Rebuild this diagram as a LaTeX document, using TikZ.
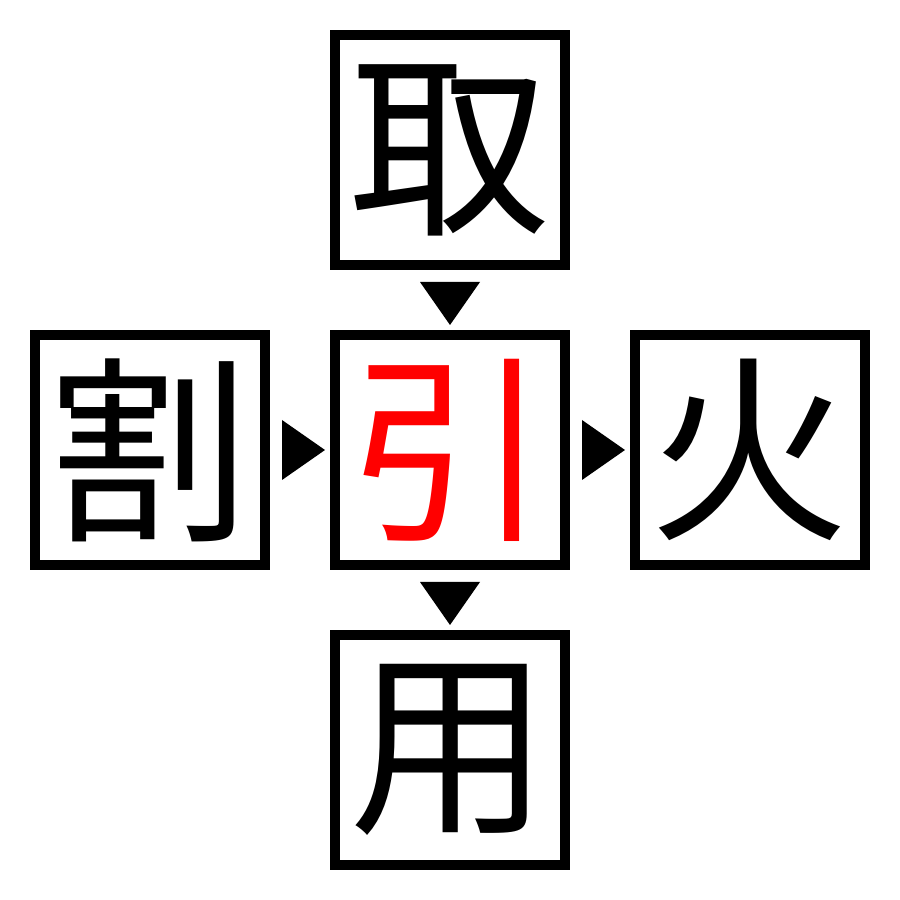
\documentclass[tikz,border=0pt]{standalone}
\usepackage{fontspec}
\newfontfamily\kanji{Noto Sans CJK JP}
\usetikzlibrary{calc}
\tikzset{kbox/.style={draw, line width=1mm, minimum size=2.3cm, inner sep=0pt, font=\kanji\fontsize{57}{57}\selectfont}}

\begin{document}
\begin{tikzpicture}
			%%%%% START %%%%%
			\useasboundingbox (0, 0) rectangle (9, 9);
			
			\node[kbox] (tori) at (4.5, 7.5) {取};
			\node[kbox] (wari) at (1.5, 4.5) {割};
			\node[kbox, text=red] (hiki) at (4.5, 4.5) {引};
			\node[kbox] (hi) at (7.5, 4.5) {火};
			\node[kbox] (you) at (4.5, 1.5) {用};
			
			\fill ($(hiki.north)+(0, 0.05)$) -- ++(-0.3, 0.43) -- ++(0.6, 0) -- cycle;
			\fill ($(hiki.west)+(-0.05, 0)$) -- ++(-0.43, 0.3) -- ++(0, -0.6) -- cycle;
			\fill ($(hi.west)+(-0.05, 0)$) -- ++(-0.43, 0.3) -- ++(0, -0.6) -- cycle;
			\fill ($(you.north)+(0, 0.05)$) -- ++(-0.3, 0.43) -- ++(0.6, 0) -- cycle;
			
			%%%%% END %%%%%
\end{tikzpicture}
\end{document}
